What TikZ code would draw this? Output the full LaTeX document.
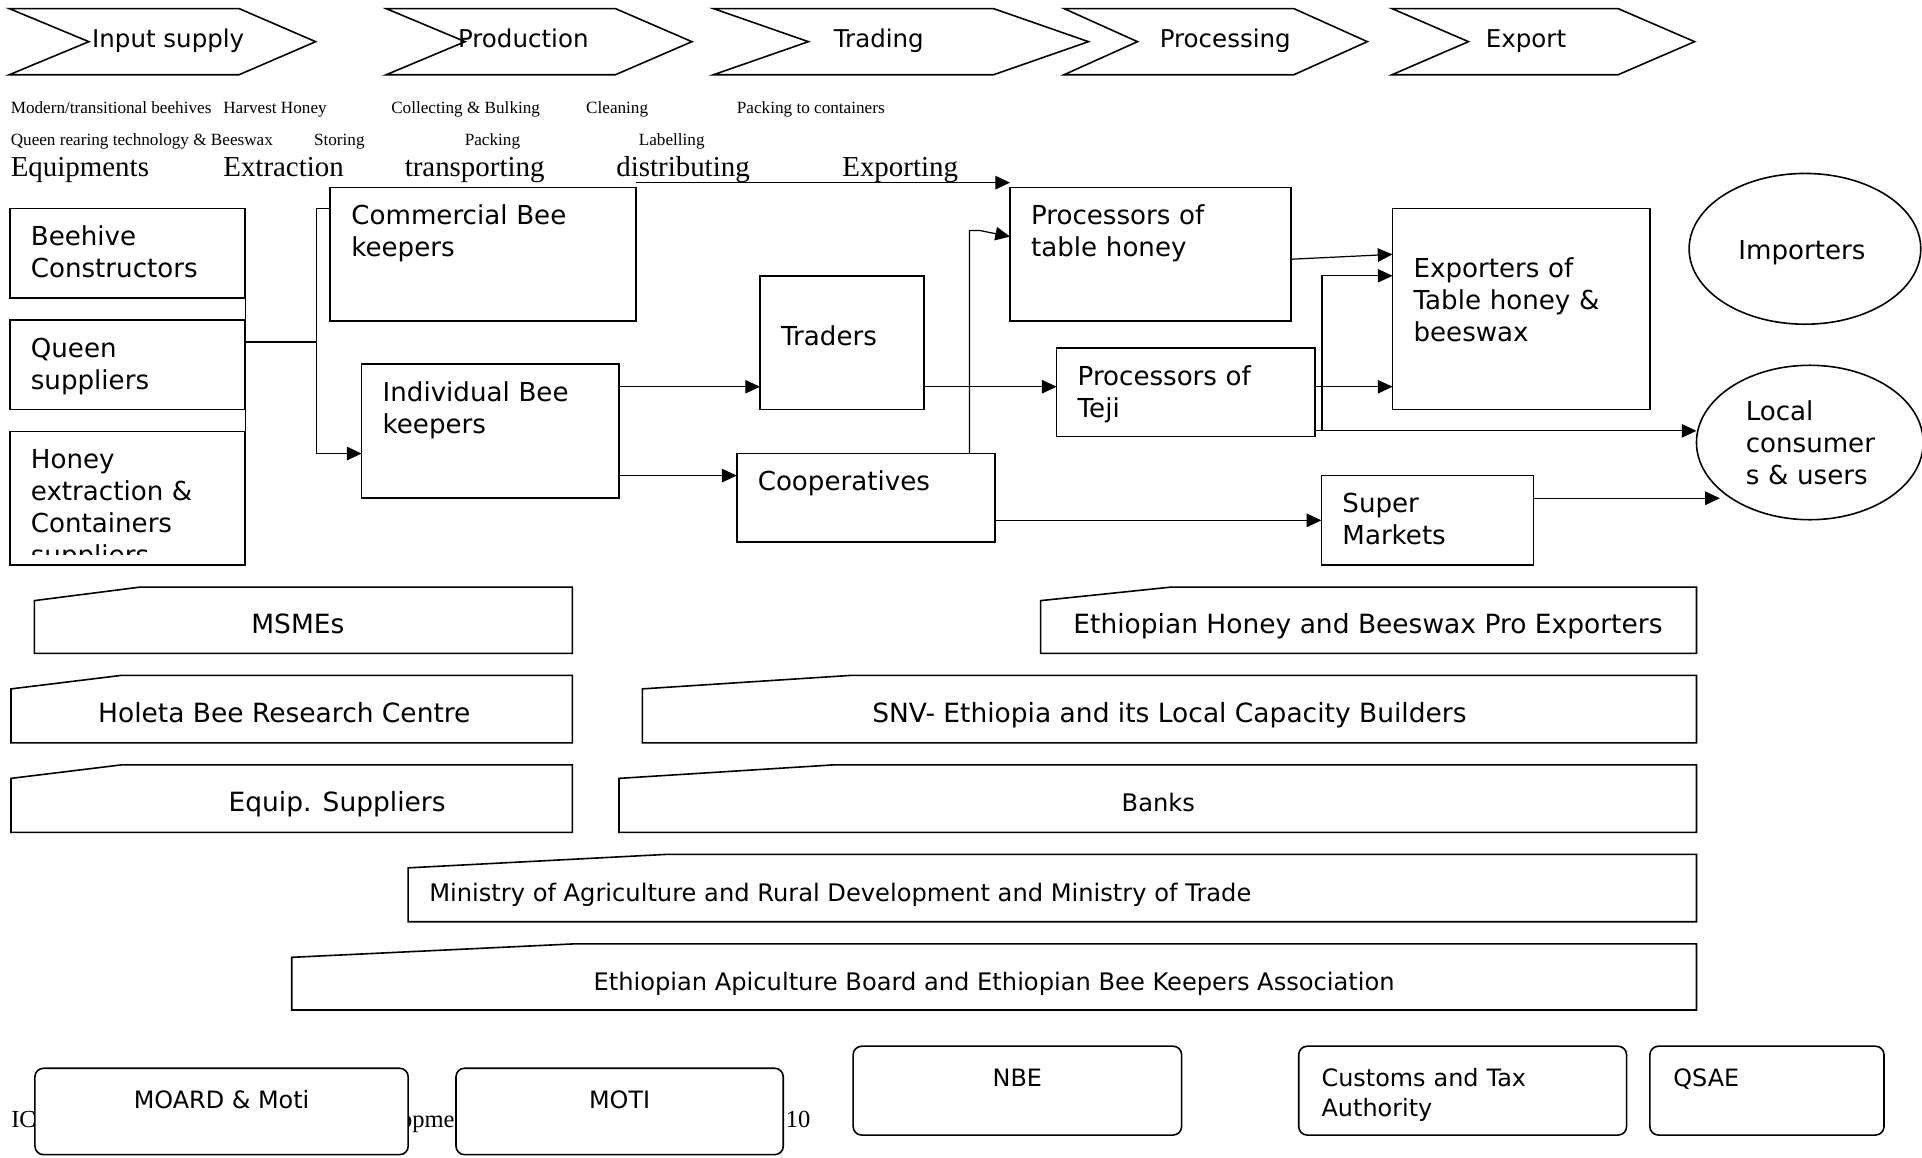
\documentclass[tikz,border=0pt]{standalone}
\usepackage{fontspec}
\setmainfont{Liberation Serif}
\setsansfont{DejaVu Sans}
\usepackage{tikz}
\usetikzlibrary{positioning,shapes,arrows.meta}

\tikzstyle{stagebox}=[draw=black, line width=1.3pt, line join=miter]
\tikzstyle{stagelabel}=[anchor=base west, inner sep=0pt, font=\sffamily\fontsize{20}{24}\selectfont]
\tikzstyle{tasklabel}=[anchor=base west, inner sep=0pt, font=\fontsize{14}{16}\selectfont]
\tikzstyle{funclabel}=[anchor=base west, inner sep=0pt, font=\fontsize{23.6}{28}\selectfont]
\tikzstyle{actorbox}=[rectangle, draw=black, line width=1.4pt, anchor=north west, inner sep=0pt, outer sep=0pt]
\tikzstyle{actorlabel}=[anchor=base west, inner sep=0pt, text width=230pt, align=left,
font=\sffamily\fontsize{21.3}{26}\selectfont]
\tikzstyle{marketbox}=[ellipse, draw=black, line width=1.3pt, inner sep=0pt, outer sep=0pt]
\tikzstyle{supportbox}=[draw=black, line width=1.3pt]
\tikzstyle{supportlabel}=[anchor=base, inner sep=0pt, font=\sffamily\fontsize{21.6}{26}\selectfont]
\tikzstyle{supportsmall}=[anchor=base, inner sep=0pt, font=\sffamily\fontsize{19.7}{24}\selectfont]
\tikzstyle{agencybox}=[rectangle, rounded corners=7pt, draw=black, fill=white, line width=1.3pt,
anchor=north west, inner sep=0pt, outer sep=0pt]
\tikzstyle{agencylabel}=[anchor=base, inner sep=0pt, font=\sffamily\fontsize{19.5}{24.5}\selectfont]
\tikzstyle{footlabel}=[inner sep=0pt, font=\fontsize{20}{22}\selectfont]
\tikzstyle{plainline}=[draw=black, line width=1pt]
\tikzstyle{flowline}=[plainline, -{Triangle[length=12pt,width=11pt]}]

\begin{document}
\begin{tikzpicture}[x=1pt, y=-1pt]
\fill[white] (0,0) rectangle (1568,944);
\useasboundingbox (0,0) rectangle (1568,944);

% value chain stages
\draw[stagebox] (7.5,7) -- (195,7) -- (257.5,34) -- (195,61) -- (7.5,61) -- (72.5,34) -- cycle;
\draw[stagebox] (315,7) -- (502,7) -- (564.5,34) -- (502,61) -- (315,61) -- (379.5,34) -- cycle;
\draw[stagebox] (582,7) -- (810.5,7) -- (888,34) -- (810.5,61) -- (582,61) -- (659.5,34) -- cycle;
\draw[stagebox] (868,7) -- (1055.5,7) -- (1115.5,34) -- (1055.5,61) -- (868,61) -- (928,34) -- cycle;
\draw[stagebox] (1135.5,7) -- (1320,7) -- (1382.5,34) -- (1320,61) -- (1135.5,61) -- (1198,34) -- cycle;
\node (inputtxt)[stagelabel] at (75,38.5) {Input supply};
\node (prodtxt)[stagelabel] at (373.5,38.5) {Production};
\node (tradetxt)[stagelabel] at (680,38.5) {Trading};
\node (proctxt)[stagelabel] at (946,38.5) {Processing};
\node (exptxt)[stagelabel] at (1212,38.5) {Export};

% functions
\node (taska)[tasklabel] at (8.6,92.5) {Modern/transitional beehives};
\node (taskb)[tasklabel] at (182,92.5) {Harvest Honey};
\node (taskc)[tasklabel] at (319,92.5) {Collecting \& Bulking};
\node (taskd)[tasklabel] at (478,92.5) {Cleaning};
\node (taske)[tasklabel] at (601,92.5) {Packing to containers};
\node (taskf)[tasklabel] at (8.6,118.3) {Queen rearing technology \& Beeswax};
\node (taskg)[tasklabel] at (256,118.3) {Storing};
\node (taskh)[tasklabel] at (379,118.3) {Packing};
\node (taski)[tasklabel] at (521,118.3) {Labelling};
\node (funca)[funclabel] at (8.6,144) {Equipments};
\node (funcb)[funclabel] at (182,144) {Extraction};
\node (funcc)[funclabel] at (330,144) {transporting};
\node (funcd)[funclabel] at (502.6,144) {distributing};
\node (funce)[funclabel] at (687,144) {Exporting};

% actors
\node (bee)[actorbox, minimum width=192pt, minimum height=73pt] at (8,170) {};
\node (queen)[actorbox, minimum width=192pt, minimum height=73pt] at (8,261) {};
\node (honey)[actorbox, minimum width=192pt, minimum height=109pt] at (8,352) {};
\node (comm)[actorbox, minimum width=249.5pt, minimum height=109pt] at (269.5,153) {};
\node (indiv)[actorbox, minimum width=210pt, minimum height=109pt] at (295,297) {};
\node (traders)[actorbox, minimum width=134pt, minimum height=109pt] at (620,225) {};
\node (coop)[actorbox, minimum width=211pt, minimum height=72pt] at (601,370) {};
\node (ptable)[actorbox, minimum width=229pt, minimum height=109pt] at (824,153) {};
\node (teji)[actorbox, minimum width=211pt, minimum height=72pt] at (862,284) {};
\node (expo)[actorbox, minimum width=210pt, minimum height=164pt] at (1136,170) {};
\node (supermkt)[actorbox, minimum width=173pt, minimum height=73pt] at (1078,388) {};
\node (importers)[marketbox, minimum width=189pt, minimum height=123pt] at (1472.5,203) {};
\node (local)[marketbox, minimum width=185pt, minimum height=126pt] at (1476.5,361) {};

\node (beetxt)[actorlabel] at ([xshift=17pt,yshift=-30.5pt]bee.north west) {Beehive\\Constructors};
\node (queentxt)[actorlabel] at ([xshift=17pt,yshift=-30.5pt]queen.north west) {Queen\\suppliers};
\begin{scope}
  \clip (honey.north west) rectangle ([yshift=9pt]honey.south east);
  \node (honeytxt)[actorlabel] at ([xshift=17pt,yshift=-30.5pt]honey.north west)
      {Honey\\extraction \&\\Containers\\suppliers};
\end{scope}
\node (commtxt)[actorlabel] at ([xshift=17pt,yshift=-30.5pt]comm.north west) {Commercial Bee\\keepers};
\node (indivtxt)[actorlabel] at ([xshift=17pt,yshift=-30.5pt]indiv.north west) {Individual Bee\\keepers};
\node (traderstxt)[actorlabel] at ([xshift=17pt,yshift=-56.5pt]traders.north west) {Traders};
\node (cooptxt)[actorlabel] at ([xshift=17pt,yshift=-30.5pt]coop.north west) {Cooperatives};
\node (ptabletxt)[actorlabel] at ([xshift=17pt,yshift=-30.5pt]ptable.north west) {Processors of\\table honey};
\node (tejitxt)[actorlabel] at ([xshift=17pt,yshift=-30.5pt]teji.north west) {Processors of\\Teji};
\node (expotxt)[actorlabel] at ([xshift=17pt,yshift=-56.5pt]expo.north west) {Exporters of\\Table honey \&\\beeswax};
\node (supertxt)[actorlabel] at ([xshift=17pt,yshift=-30.5pt]supermkt.north west) {Super\\Markets};
\node (importerstxt)[actorlabel] at (1418,212) {Importers};
\node (localtxt)[actorlabel] at (1424,343) {Local\\consumer\\s \& users};

% connectors
\coordinate (fork) at (258,279);
\coordinate (forktop) at (258,170);
\coordinate (forkbot) at (258,370);
\coordinate (riser) at (791,188);
\coordinate (tejifork) at (1078.5,351.5);
\coordinate (rowa) at (0,315.5);
\coordinate (rowb) at (0,388);
\coordinate (rowc) at (0,424.5);
\coordinate (rowd) at (0,351.5);
\coordinate (rowe) at (0,225);
\coordinate (rowf) at (0,406.5);

\draw[plainline] (bee.south east) -- (queen.north east);
\draw[plainline] (queen.south east) -- (honey.north east);
\draw[plainline] (queen.east |- fork) -- (fork);
\draw[plainline] (comm.west |- forktop) -- (forktop) -- (forkbot);
\draw[flowline] (forkbot) -- (indiv.west |- forkbot);
\draw[flowline] ([yshift=4pt]comm.north east) -- ([yshift=4pt]ptable.north west);
\draw[flowline] (indiv.east |- rowa) -- (traders.west |- rowa);
\draw[flowline] (indiv.east |- rowb) -- (coop.west |- rowb);
\draw[flowline] (traders.east |- rowa) -- (teji.west |- rowa);
\draw[flowline] (coop.north -| riser) -- (riser) -- ++(8,0) -- ([yshift=-5pt]ptable.west |- riser);
\draw[flowline] (coop.east |- rowc) -- (supermkt.west |- rowc);
\draw[flowline] ([yshift=-4pt]ptable.east) -- (expo.west |- ptable.east);
\draw[flowline] (teji.east |- rowa) -- (expo.west |- rowa);
\draw[flowline] (teji.east |- rowd) -- (local.west |- rowd);
\draw[flowline] (tejifork) |- (expo.west |- rowe);
\draw[flowline] (supermkt.east |- rowf) -- ([xshift=-8pt]local.south west |- rowf);

% supporting organisations
\draw[supportbox] (28,533) -- (28,490) -- (114,479) -- (467,479) -- (467,533) -- cycle;
\draw[supportbox] (849,533) -- (849,490) -- (955,479) -- (1384,479) -- (1384,533) -- cycle;
\draw[supportbox] (9,606) -- (9,562) -- (99,551) -- (467,551) -- (467,606) -- cycle;
\draw[supportbox] (524,606) -- (524,562) -- (694,551) -- (1384,551) -- (1384,606) -- cycle;
\draw[supportbox] (9,679) -- (9,635) -- (99,624) -- (467,624) -- (467,679) -- cycle;
\draw[supportbox] (505,679) -- (505,635) -- (680,624) -- (1384,624) -- (1384,679) -- cycle;
\draw[supportbox] (333,752) -- (333,708) -- (544,697) -- (1384,697) -- (1384,752) -- cycle;
\draw[supportbox] (238,824) -- (238,781) -- (469,770) -- (1384,770) -- (1384,824) -- cycle;
\node (msmetxt)[supportlabel] at (243,517) {MSMEs};
\node (protxt)[supportlabel] at (1116,517) {Ethiopian Honey and Beeswax Pro Exporters};
\node (holetatxt)[supportlabel] at (232,589.5) {Holeta Bee Research Centre};
\node (snvtxt)[supportlabel] at (954,589.5) {SNV- Ethiopia and its Local Capacity Builders};
\node (equiptxt)[supportlabel] at (275,662) {Equip. Suppliers};
\node (bankstxt)[supportsmall] at (945,662) {Banks};
\node (moardtxt)[supportsmall, anchor=base west] at (350,735.5) {Ministry of Agriculture and Rural Development and Ministry of Trade};
\node (boardtxt)[supportsmall] at (811,808) {Ethiopian Apiculture Board and Ethiopian Bee Keepers Association};

% footer partly hidden
\node (foota)[footlabel, anchor=base west] at (9,920) {IC};
\node (footb)[footlabel, anchor=base east] at (371,920) {opme};
\node (footc)[footlabel, anchor=base west] at (641,920) {10};

% agencies
\node (moard)[agencybox, minimum width=304.5pt, minimum height=70.5pt] at (28.5,871.5) {};
\node (moti)[agencybox, minimum width=267pt, minimum height=70.5pt] at (372,871.5) {};
\node (nbe)[agencybox, minimum width=268pt, minimum height=72.5pt] at (696,853.5) {};
\node (customs)[agencybox, minimum width=267.5pt, minimum height=72.5pt] at (1059.5,853.5) {};
\node (qsae)[agencybox, minimum width=191pt, minimum height=72.5pt] at (1346,853.5) {};
\node (moardlbl)[agencylabel] at ([yshift=-32.5pt]moard.north) {MOARD \& Moti};
\node (motilbl)[agencylabel] at ([yshift=-32.5pt]moti.north) {MOTI};
\node (nbelbl)[agencylabel] at ([yshift=-33pt]nbe.north) {NBE};
\node (customslbl)[agencylabel, anchor=base west, align=left, text width=230pt] at ([xshift=18.5pt,yshift=-33pt]customs.north west) {Customs and Tax\\Authority};
\node (qsaelbl)[agencylabel, anchor=base west] at ([xshift=19pt,yshift=-33pt]qsae.north west) {QSAE};
\end{tikzpicture}
\end{document}
